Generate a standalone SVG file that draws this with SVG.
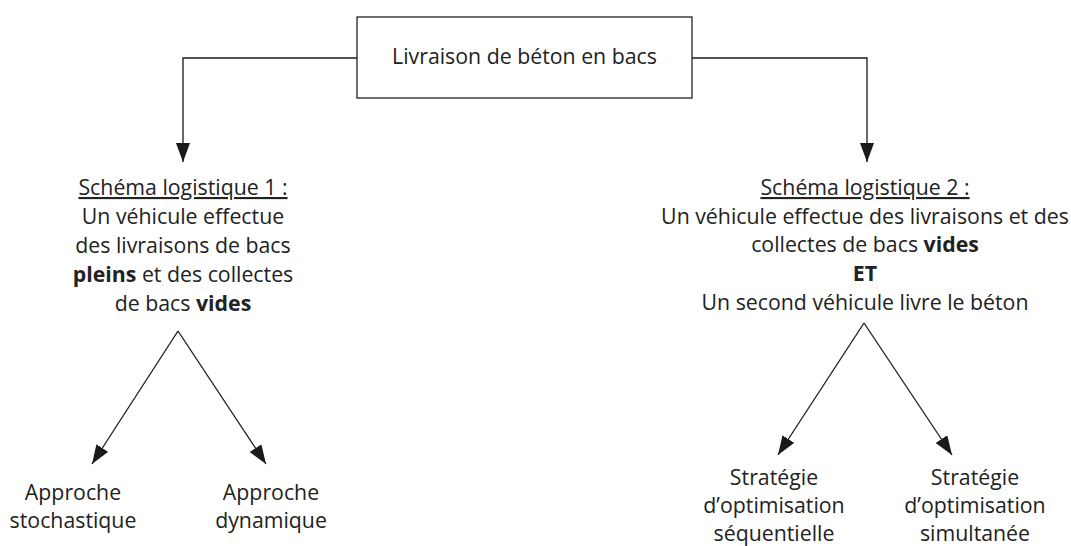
<svg xmlns="http://www.w3.org/2000/svg" width="1071" height="546" viewBox="0 0 1071 546">
<defs>
<marker id="ah" markerUnits="userSpaceOnUse" markerWidth="19" markerHeight="14" refX="19" refY="7" orient="auto">
<path d="M0,0 L19,7 L0,14 z" fill="#1a1a1a"/>
</marker>
<style>
text{font-family:"Open Sans","Liberation Sans",sans-serif;font-size:21.3px;fill:#222;text-anchor:middle}
.b{font-weight:bold}
.c{stroke:#1a1a1a;stroke-width:1.3;fill:none;marker-end:url(#ah)}
</style>
</defs>
<rect width="1071" height="546" fill="#fff"/>
<g id="root">
<rect x="357" y="17" width="335" height="81" fill="#fff" stroke="#222" stroke-width="1.3"/>
<text x="524.5" y="64">Livraison de béton en bacs</text>
</g>
<g id="schema1">
<text x="183" y="195" text-decoration="underline">Schéma logistique 1 :</text>
<text x="183" y="224">Un véhicule effectue</text>
<text x="183" y="253">des livraisons de bacs</text>
<text x="183" y="282"><tspan class="b">pleins</tspan> et des collectes</text>
<text x="183" y="311">de bacs <tspan class="b">vides</tspan></text>
</g>
<g id="schema2">
<text x="865" y="195" text-decoration="underline">Schéma logistique 2 :</text>
<text x="865" y="224">Un véhicule effectue des livraisons et des</text>
<text x="865" y="252">collectes de bacs <tspan class="b">vides</tspan></text>
<text x="865" y="281" class="b">ET</text>
<text x="865" y="310">Un second véhicule livre le béton</text>
</g>
<g id="stochastique">
<text x="73" y="500">Approche</text>
<text x="73" y="528">stochastique</text>
</g>
<g id="dynamique">
<text x="271" y="500">Approche</text>
<text x="271" y="528">dynamique</text>
</g>
<g id="sequentielle">
<text x="774" y="485">Stratégie</text>
<text x="774" y="513">d’optimisation</text>
<text x="774" y="541">séquentielle</text>
</g>
<g id="simultanee">
<text x="975" y="485">Stratégie</text>
<text x="975" y="513">d’optimisation</text>
<text x="975" y="541">simultanée</text>
</g>
<g id="connectors">
<path class="c" d="M357,58 H183 V162"/>
<path class="c" d="M692,58 H867 V162"/>
<path class="c" d="M178,331 L92,464"/>
<path class="c" d="M178,331 L266,464"/>
<path class="c" d="M864,323 L778,455"/>
<path class="c" d="M864,323 L952,455"/>
</g>
</svg>
